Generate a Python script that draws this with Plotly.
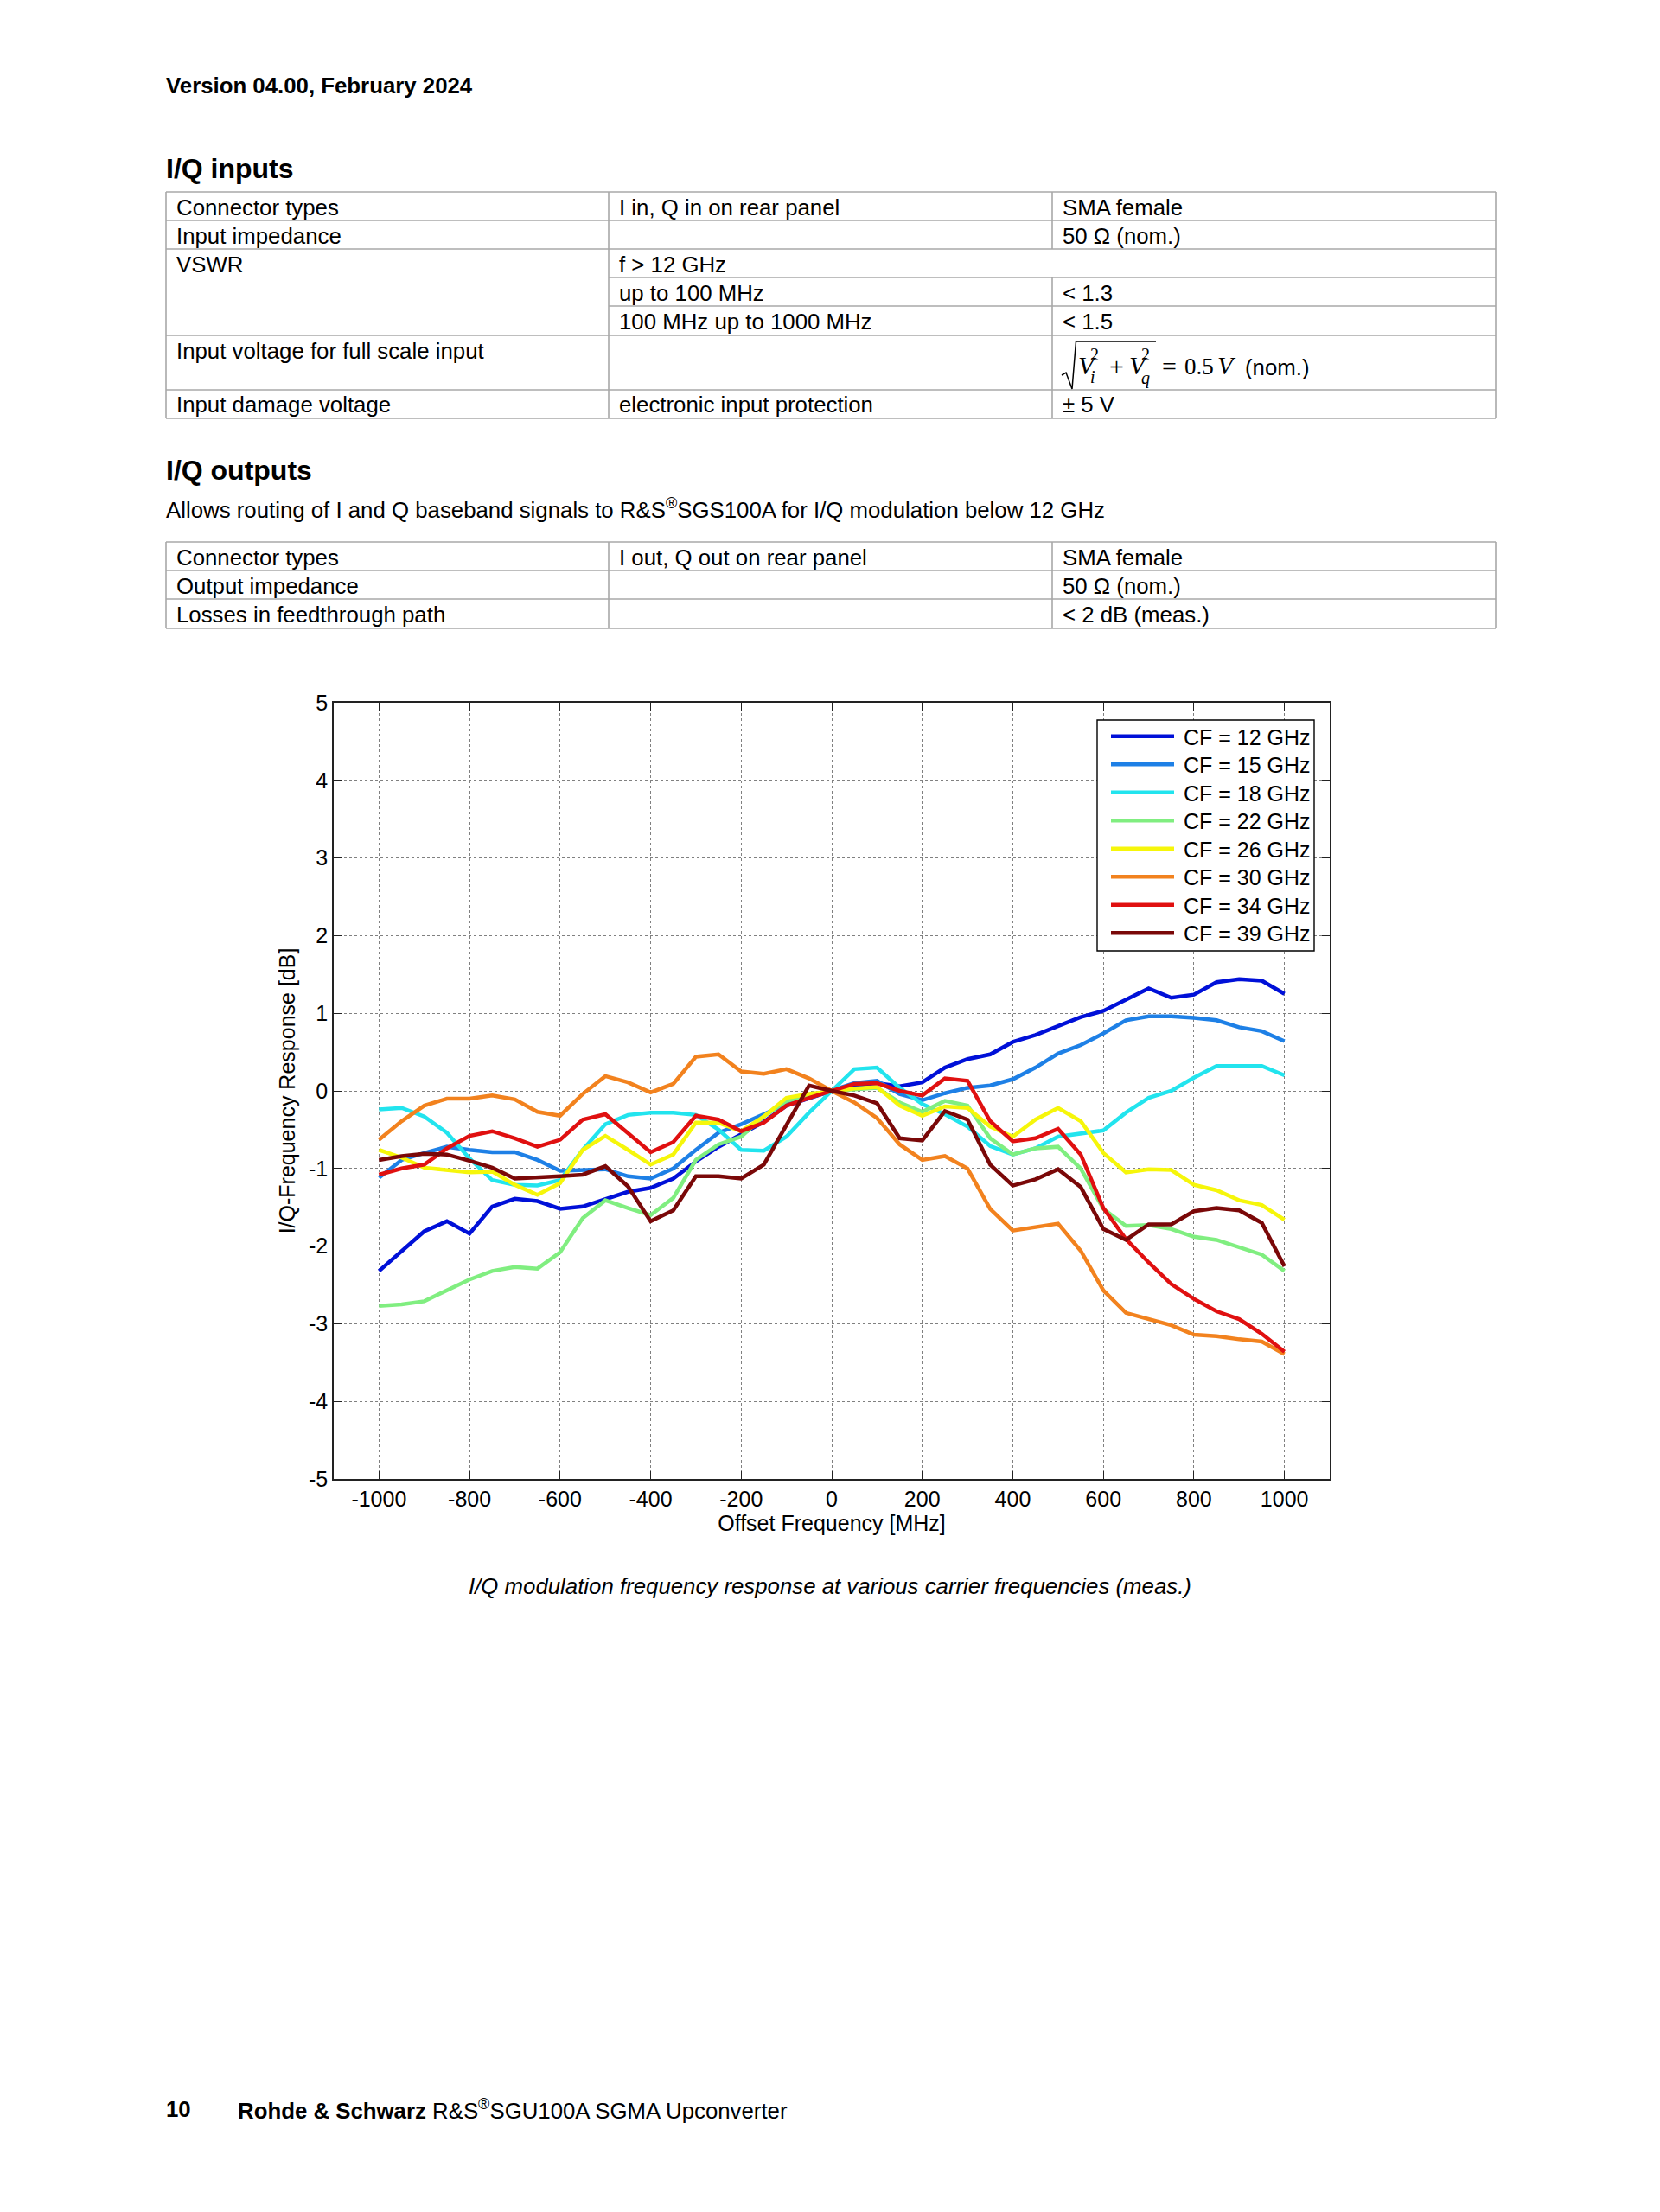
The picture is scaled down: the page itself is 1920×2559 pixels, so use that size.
import plotly.graph_objects as go

# ---------------- data ----------------
offset_mhz = list(range(-1000, 1001, 50))

cf_12 = [-2.32, -2.06, -1.81, -1.68, -1.84, -1.49, -1.39, -1.42, -1.52, -1.49, -1.39,
         -1.30, -1.25, -1.13, -0.91, -0.72, -0.56, -0.40, -0.19, -0.10, 0.00,
         0.07, 0.10, 0.06, 0.11, 0.30, 0.41, 0.47, 0.63, 0.72, 0.84,
         0.95, 1.03, 1.18, 1.32, 1.20, 1.24, 1.40, 1.44, 1.42, 1.25]
cf_15 = [-1.12, -0.89, -0.80, -0.72, -0.76, -0.79, -0.79, -0.89, -1.03, -1.02, -1.01,
         -1.10, -1.13, -1.00, -0.76, -0.54, -0.43, -0.30, -0.17, -0.09, 0.00,
         0.10, 0.13, -0.04, -0.12, -0.03, 0.04, 0.07, 0.15, 0.30, 0.48,
         0.59, 0.74, 0.91, 0.96, 0.96, 0.94, 0.91, 0.82, 0.77, 0.64]
cf_18 = [-0.24, -0.22, -0.33, -0.54, -0.87, -1.15, -1.21, -1.22, -1.15, -0.76, -0.43,
         -0.31, -0.28, -0.28, -0.31, -0.50, -0.76, -0.77, -0.59, -0.28, 0.00,
         0.28, 0.30, 0.04, -0.17, -0.30, -0.46, -0.71, -0.82, -0.74, -0.59,
         -0.55, -0.51, -0.28, -0.09, 0.00, 0.17, 0.32, 0.32, 0.32, 0.20]
cf_22 = [-2.77, -2.75, -2.71, -2.57, -2.43, -2.32, -2.27, -2.29, -2.08, -1.64, -1.41,
         -1.51, -1.60, -1.38, -0.89, -0.69, -0.59, -0.33, -0.13, -0.06, 0.00,
         0.02, 0.04, -0.15, -0.27, -0.13, -0.19, -0.61, -0.82, -0.74, -0.72,
         -1.00, -1.52, -1.74, -1.73, -1.78, -1.88, -1.92, -2.01, -2.11, -2.32]
cf_26 = [-0.76, -0.86, -0.99, -1.02, -1.05, -1.04, -1.21, -1.34, -1.19, -0.76, -0.58,
         -0.76, -0.95, -0.82, -0.41, -0.41, -0.52, -0.33, -0.09, -0.04, 0.00,
         0.03, 0.05, -0.19, -0.32, -0.20, -0.22, -0.46, -0.59, -0.37, -0.22,
         -0.39, -0.80, -1.05, -1.01, -1.02, -1.21, -1.28, -1.41, -1.47, -1.66]
cf_30 = [-0.63, -0.39, -0.19, -0.10, -0.10, -0.06, -0.11, -0.27, -0.32, -0.04, 0.19,
         0.11, -0.02, 0.09, 0.44, 0.47, 0.25, 0.22, 0.28, 0.16, 0.00,
         -0.15, -0.35, -0.69, -0.89, -0.84, -1.00, -1.52, -1.80, -1.75, -1.71,
         -2.06, -2.57, -2.86, -2.94, -3.02, -3.14, -3.16, -3.20, -3.23, -3.39]
cf_34 = [-1.08, -1.00, -0.95, -0.74, -0.58, -0.52, -0.61, -0.72, -0.63, -0.37, -0.30,
         -0.54, -0.79, -0.66, -0.32, -0.37, -0.52, -0.41, -0.19, -0.09, 0.00,
         0.09, 0.10, 0.00, -0.06, 0.16, 0.13, -0.39, -0.65, -0.61, -0.49,
         -0.82, -1.51, -1.91, -2.21, -2.49, -2.68, -2.84, -2.94, -3.13, -3.36]
cf_39 = [-0.89, -0.84, -0.81, -0.82, -0.90, -0.99, -1.13, -1.12, -1.10, -1.08, -0.97,
         -1.23, -1.68, -1.54, -1.10, -1.10, -1.13, -0.95, -0.43, 0.07, 0.00,
         -0.06, -0.16, -0.61, -0.64, -0.26, -0.37, -0.95, -1.22, -1.14, -1.01,
         -1.24, -1.78, -1.92, -1.72, -1.72, -1.55, -1.51, -1.54, -1.70, -2.26]

series_names = ["CF = 12 GHz", "CF = 15 GHz", "CF = 18 GHz", "CF = 22 GHz",
                "CF = 26 GHz", "CF = 30 GHz", "CF = 34 GHz", "CF = 39 GHz"]
series_values = [cf_12, cf_15, cf_18, cf_22, cf_26, cf_30, cf_34, cf_39]
series_colors = ["#0010D8", "#1E80E6", "#22E4EE", "#80EE80",
                 "#F6F60A", "#F2821E", "#E01010", "#7A0808"]

x_ticks = list(range(-1000, 1001, 200))
y_ticks = list(range(-5, 6, 1))

table1_rows = [
    ["Connector types", "I in, Q in on rear panel", "SMA female"],
    ["Input impedance", "", "50 Ω (nom.)"],
    ["VSWR", "f &gt; 12 GHz", ""],
    ["", "up to 100 MHz", "&lt; 1.3"],
    ["", "100 MHz up to 1000 MHz", "&lt; 1.5"],
    ["Input voltage for full scale input", "", ""],
    ["Input damage voltage", "electronic input protection", "± 5 V"],
]
table2_rows = [
    ["Connector types", "I out, Q out on rear panel", "SMA female"],
    ["Output impedance", "", "50 Ω (nom.)"],
    ["Losses in feedthrough path", "", "&lt; 2 dB (meas.)"],
]

# ---------------- page geometry ----------------
PAGE_W, PAGE_H = 1920, 2559
PL, PR, PT, PB = 386, 1538, 813, 1711
PW, PH = PR - PL, PB - PT
SANS = "Liberation Sans, Arial, sans-serif"
SERIF = "Liberation Serif, Times New Roman, serif"
BODY = 25.8


def xp(X):
    return (X - PL) / PW


def yp(Y):
    return (PB - Y) / PH


annotations = []
shapes = []


def text(X, Y, s, size=BODY, family=SANS, anchor="left"):
    annotations.append(dict(
        x=xp(X - 2 if anchor == "left" else X), y=yp(Y), xref="paper", yref="paper",
        text=s, showarrow=False, xanchor=anchor, yanchor="middle",
        font=dict(family=family, size=size, color="black")))


def hline(x0, x1, Y, color="#a8a8a8", width=1.6):
    shapes.append(dict(type="line", xref="paper", yref="paper",
                       x0=xp(x0), x1=xp(x1), y0=yp(Y), y1=yp(Y),
                       line=dict(color=color, width=width)))


def vline(X, y0, y1, color="#a8a8a8", width=1.6):
    shapes.append(dict(type="line", xref="paper", yref="paper",
                       x0=xp(X), x1=xp(X), y0=yp(y0), y1=yp(y1),
                       line=dict(color=color, width=width)))


# ---------------- figure / traces ----------------
fig = go.Figure()
for name, color, vals in zip(series_names, series_colors, series_values):
    fig.add_trace(go.Scatter(x=offset_mhz, y=vals, mode="lines", name=name,
                             line=dict(color=color, width=4.5), showlegend=False))

# ---------------- page text ----------------
text(192, 99.5, "<b>Version 04.00, February 2024</b>")
text(192, 194.5, "<b>I/Q inputs</b>", size=32)
text(192, 544, "<b>I/Q outputs</b>", size=32)
text(192, 588, "Allows routing of I and Q baseband signals to R&amp;S<sup>®</sup>SGS100A for I/Q modulation below 12 GHz")

# table 1
cols = [192, 704, 1217, 1730]
for Y in [222, 255, 288, 388, 451, 484]:
    hline(cols[0], cols[3], Y)
for Y in [321, 354]:
    hline(cols[1], cols[3], Y)
vline(cols[0], 222, 484)
vline(cols[1], 222, 484)
vline(cols[3], 222, 484)
vline(cols[2], 222, 288)
vline(cols[2], 321, 484)
row_centers1 = [239.5, 272.5, 305.5, 338.5, 371.5, 405.5, 468.5]
for yc, row in zip(row_centers1, table1_rows):
    for cx, cell in zip(cols[:3], row):
        if cell:
            text(cx + 12, yc, cell)

# formula in row 6: sqrt(Vi^2 + Vq^2) = 0.5 V (nom.)
shapes.append(dict(type="path", xref="paper", yref="paper",
                   path=f"M {xp(1228)},{yp(434)} L {xp(1233)},{yp(431)} L {xp(1240)},{yp(450)} "
                        f"L {xp(1244.5)},{yp(395)} L {xp(1337)},{yp(395)}",
                   line=dict(color="black", width=1.5)))
text(1247, 423, "<i>V</i>", size=30, family=SERIF)
text(1261, 410, "2", size=20, family=SERIF)
text(1261, 436, "<i>i</i>", size=20, family=SERIF)
text(1283, 424, "+", size=30, family=SERIF)
text(1306, 423, "<i>V</i>", size=30, family=SERIF)
text(1320, 410, "2", size=20, family=SERIF)
text(1320, 437, "<i>q</i>", size=20, family=SERIF)
text(1344, 424, "=", size=30, family=SERIF)
text(1370, 424, "0.5", size=27, family=SERIF)
text(1408, 423, "<i>V</i>", size=30, family=SERIF)
text(1440, 425, "(nom.)")

# table 2
for Y in [627, 660, 693, 727]:
    hline(cols[0], cols[3], Y)
for X in cols:
    vline(X, 627, 727)
row_centers2 = [644.5, 677.5, 711]
for yc, row in zip(row_centers2, table2_rows):
    for cx, cell in zip(cols[:3], row):
        if cell:
            text(cx + 12, yc, cell)

# caption and footer
text(960, 1835, "<i>I/Q modulation frequency response at various carrier frequencies (meas.)</i>", anchor="center")
text(192, 2440, "<b>10</b>")
text(275, 2440, "<b>Rohde &amp; Schwarz</b> R&amp;S<sup>®</sup>SGU100A SGMA Upconverter")

# ---------------- legend box (MATLAB style) ----------------
shapes.append(dict(type="rect", xref="paper", yref="paper",
                   x0=xp(1269), x1=xp(1520), y0=yp(1100), y1=yp(833),
                   line=dict(color="black", width=1.4), fillcolor="white", layer="above"))
for i, (name, color) in enumerate(zip(series_names, series_colors)):
    yc = 851.7 + i * 32.5
    shapes.append(dict(type="line", xref="paper", yref="paper",
                       x0=xp(1285), x1=xp(1358), y0=yp(yc), y1=yp(yc),
                       line=dict(color=color, width=4.5), layer="above"))
    text(1369, yc + 1, name, size=25)

# ---------------- layout ----------------
axis_common = dict(
    showline=True, linecolor="#222222", linewidth=1.5, mirror="ticks",
    ticks="inside", ticklen=9, tickwidth=1, tickcolor="#222222",
    showgrid=True, gridcolor="#808080", gridwidth=1, griddash="dot",
    zeroline=False, tickfont=dict(family=SANS, size=25, color="black"),
)

fig.update_layout(
    width=PAGE_W, height=PAGE_H,
    margin=dict(l=PL, r=PAGE_W - PR, t=PT, b=PAGE_H - PB, pad=0),
    paper_bgcolor="white", plot_bgcolor="white",
    showlegend=False,
    xaxis=dict(range=[-1100, 1100], tickvals=x_ticks,
               ticktext=[str(v) for v in x_ticks],
               title=dict(text="Offset Frequency [MHz]", standoff=5,
                          font=dict(family=SANS, size=25, color="black")),
               **axis_common),
    yaxis=dict(range=[-5, 5], tickvals=y_ticks,
               ticktext=[str(v) for v in y_ticks],
               title=dict(text="I/Q-Frequency Response [dB]", standoff=8,
                          font=dict(family=SANS, size=25, color="black")),
               **axis_common),
    annotations=annotations,
    shapes=shapes,
)

fig.write_html("out.html",
               config={"displayModeBar": False},
               post_script="document.body.style.margin='0px';document.body.style.overflow='hidden';")
